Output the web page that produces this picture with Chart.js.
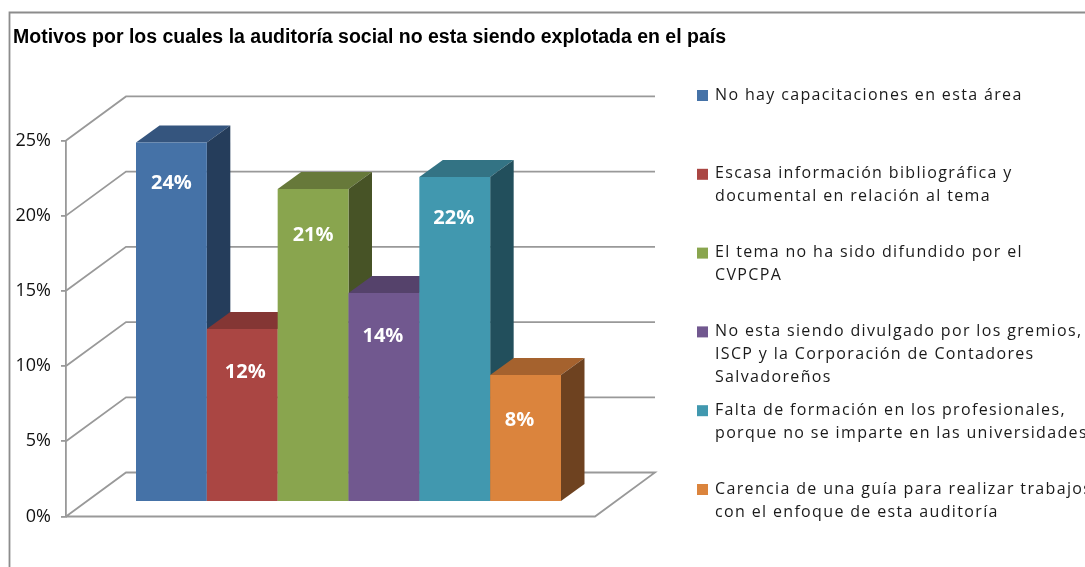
<!DOCTYPE html>
<html lang="es">
<head>
<meta charset="utf-8">
<title>Motivos</title>
<style>html,body{margin:0;padding:0;background:#fff;overflow:hidden}canvas{display:block}</style>
<script src="https://cdn.jsdelivr.net/npm/chart.js@4/dist/chart.umd.js"></script>
</head>
<body>
<canvas id="c" width="1085" height="567"></canvas>
<script>
const chartTitle = 'Motivos por los cuales la auditoría social no esta siendo explotada en el país';
const categories = ['Motivos'];
const legendLines = [
  ['No hay capacitaciones en esta área'],
  ['Escasa información bibliográfica y', 'documental en relación al tema'],
  ['El tema no ha sido difundido por el', 'CVPCPA'],
  ['No esta siendo divulgado por los gremios,', 'ISCP y la Corporación de Contadores', 'Salvadoreños'],
  ['Falta de formación en los profesionales,', 'porque no se imparte en las universidades'],
  ['Carencia de una guía para realizar trabajos', 'con el enfoque de esta auditoría']
];
const values = [23.9, 11.5, 20.8, 13.9, 21.6, 8.45];
const frontColors = ['#4572A7', '#AA4643', '#89A54E', '#71588F', '#4198AF', '#DB843D'];
const topColors = ['#35557E', '#843634', '#67793A', '#55426B', '#337384', '#A5622E'];
const sideColors = ['#253D5B', '#5E2624', '#475326', '#3D3050', '#224F5C', '#6E4220'];
const yTicks = [0, 5, 10, 15, 20, 25];

const DEPTH_X = 60, DEPTH_Y = 44;      // floor depth of the 3D box
const SHIFT_X = 18, SHIFT_Y = -14.5;   // bars stand part-way into the box
const BAR_DX = 23.5, BAR_DY = -17;     // depth of each bar
const GRID = '#999999';
const GRID_W = 1.8;
const FONT = '"Open Sans", sans-serif';

function drawDepth(chart, c, i) {
  const b = chart.getDatasetMeta(i).data[0];
  const l = b.x - b.width / 2, r = b.x + b.width / 2, t = b.y, base = b.base;
  c.fillStyle = topColors[i];
  c.beginPath();
  c.moveTo(l, t); c.lineTo(l + BAR_DX, t + BAR_DY); c.lineTo(r + BAR_DX, t + BAR_DY); c.lineTo(r, t);
  c.closePath(); c.fill();
  c.fillStyle = sideColors[i];
  c.beginPath();
  c.moveTo(r, t); c.lineTo(r + BAR_DX, t + BAR_DY); c.lineTo(r + BAR_DX, base + BAR_DY); c.lineTo(r, base);
  c.closePath(); c.fill();
}

const walls = {
  id: 'walls',
  beforeDraw(chart) {
    const c = chart.ctx;
    c.save();
    c.strokeStyle = '#8c8c8c'; c.lineWidth = GRID_W;
    c.beginPath(); c.moveTo(9.5, 567); c.lineTo(9.5, 12.5); c.lineTo(1085, 12.5); c.stroke();
    c.restore();
  },
  beforeDatasetsDraw(chart) {
    const c = chart.ctx, a = chart.chartArea, y = chart.scales.y;
    c.save();
    c.strokeStyle = GRID; c.lineWidth = GRID_W;
    yTicks.forEach(v => {
      const p = y.getPixelForValue(v);
      c.beginPath();
      c.moveTo(a.left, p);
      c.lineTo(a.left + DEPTH_X, p - DEPTH_Y);
      c.lineTo(a.right + DEPTH_X, p - DEPTH_Y);
      if (v === 0) { c.lineTo(a.right, p); c.lineTo(a.left, p); }
      c.stroke();
    });
    c.restore();
  },
  // Bars are painted left to right below, so each one overlaps its left neighbour's depth.
  beforeDatasetDraw() { return false; },
  afterDatasetsDraw(chart) {
    const c = chart.ctx;
    const nudgeX = [0, 3, 0, -1, -1, -6];
    const nudgeY = [41, 43, 46, 43, 41, 45];
    c.save();
    c.translate(SHIFT_X, SHIFT_Y);
    values.forEach((v, i) => {
      drawDepth(chart, c, i);
      chart.getDatasetMeta(i).controller.draw();
    });
    c.fillStyle = '#fff';
    c.font = 'bold 20px ' + FONT;
    c.textAlign = 'center'; c.textBaseline = 'middle';
    values.forEach((v, i) => {
      const b = chart.getDatasetMeta(i).data[0];
      c.fillText(Math.round(v) + '%', b.x + nudgeX[i], b.y + nudgeY[i]);
    });
    c.restore();
    drawLegend(c);
  }
};

function drawLegend(c) {
  c.save();
  c.font = '16px ' + FONT;
  c.textBaseline = 'middle'; c.textAlign = 'left';
  c.letterSpacing = '1.35px';
  legendLines.forEach((lines, i) => {
    const y0 = 95 + i * 78.8;
    c.fillStyle = frontColors[i];
    c.fillRect(697, y0 - 5, 11, 11);
    c.fillStyle = '#1a1a1a';
    lines.forEach((t, k) => c.fillText(t, 715, y0 + k * 23));
  });
  c.restore();
}

new Chart(document.getElementById('c'), {
  type: 'bar',
  data: {
    labels: categories,
    datasets: values.map((v, i) => ({
      label: legendLines[i].join(' '),
      data: [v],
      backgroundColor: frontColors[i]
    }))
  },
  options: {
    responsive: false,
    animation: false,
    devicePixelRatio: 1,
    categoryPercentage: 0.8034,
    barPercentage: 1,
    layout: { padding: { left: 13, right: 0, top: 0, bottom: 50.5 } },
    plugins: {
      legend: { display: false },
      tooltip: { enabled: false },
      title: {
        display: true, text: chartTitle, align: 'start', color: '#000',
        font: { family: '"Liberation Sans", Arial, sans-serif', size: 19.5, weight: 'bold' },
        padding: { top: 25.5, bottom: 91.5 }
      }
    },
    scales: {
      x: { display: false },
      y: {
        min: 0, max: 25,
        afterFit(s) { s.width = 53; },
        border: { display: true, color: GRID, width: GRID_W },
        grid: { drawOnChartArea: false, drawTicks: true, tickLength: 5, color: GRID, lineWidth: GRID_W },
        ticks: {
          stepSize: 5, padding: 10, color: '#111',
          font: { family: FONT, size: 18 },
          callback: v => v + '%'
        }
      },
      // Empty axis that reserves the space on the right for the wrapped legend.
      legendSpace: {
        position: 'right', display: true,
        afterFit(s) { s.width = 490; },
        border: { display: false },
        grid: { display: false },
        ticks: { display: false }
      }
    }
  },
  plugins: [walls]
});
</script>
</body>
</html>
